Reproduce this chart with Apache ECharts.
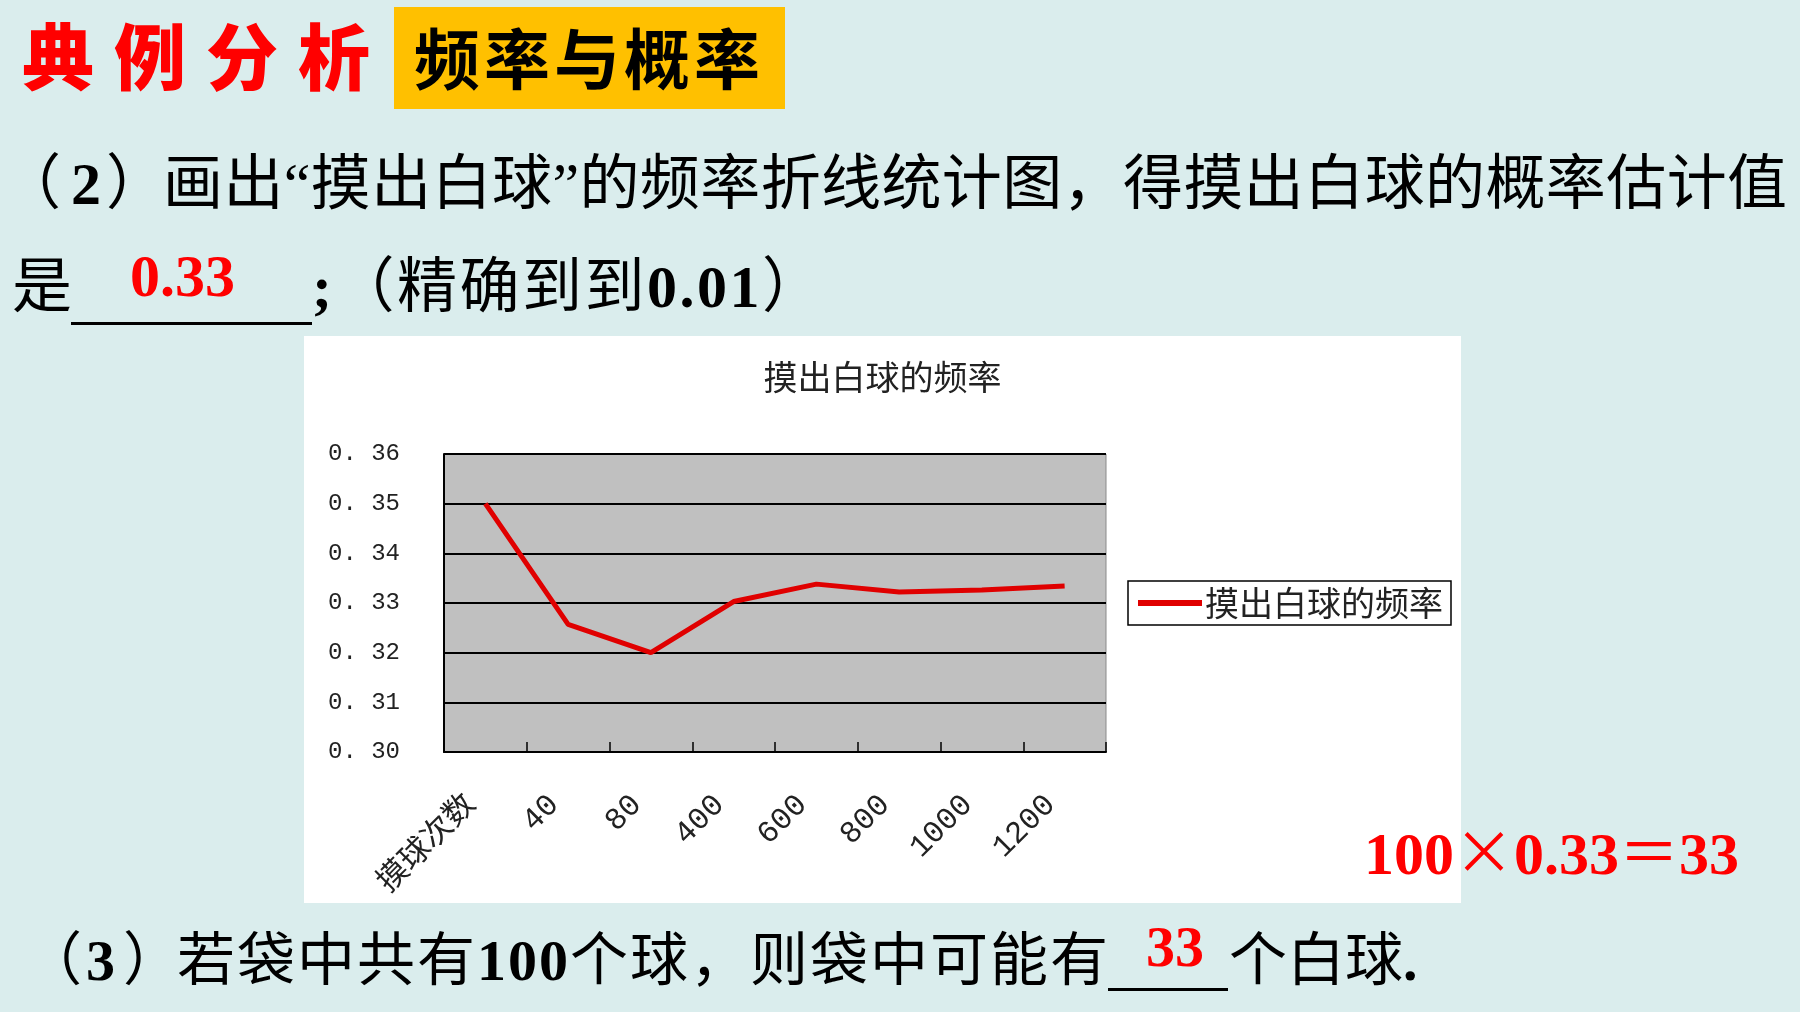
<!DOCTYPE html>
<html>
<head>
<meta charset="utf-8">
<script src="https://cdn.jsdelivr.net/npm/echarts@6/dist/echarts.min.js"></script>
<style>
  html, body { margin: 0; padding: 0; }
  body { width: 1800px; height: 1012px; background: #daeded; position: relative; overflow: hidden;
         font-family: "Liberation Serif", "Noto Sans CJK SC", serif; color: #000; }
  .abs { position: absolute; white-space: nowrap; line-height: 1; }
  #chart { position: absolute; left: 304px; top: 336px; width: 1157px; height: 567px; background: #fff; z-index: 1; }
  .red { color: #ff0000; font-weight: bold; z-index: 2; }
  .cjk { font-family: "Noto Sans CJK SC"; font-weight: normal; }
  .uline { position: absolute; height: 3px; background: #000; }
</style>
</head>
<body>
<div class="abs" id="h1" style="left:22px; top:17px; font-family:'Noto Sans CJK SC'; font-weight:900; font-size:72px; letter-spacing:20px; color:#ff0000;">典例分析</div>
<div class="abs" style="left:394px; top:7px; width:391px; height:102px; background:#ffc000;"></div>
<div class="abs" id="h2" style="left:414px; top:22px; font-family:'Noto Sans CJK SC'; font-weight:700; font-size:66px; letter-spacing:4px;">频率与概率</div>

<div class="abs" style="left:1px; top:154px; font-size:60px;">（<b style="margin-left:10px">2</b><span style="margin-left:5px">）</span></div>
<div class="abs" id="l1" style="left:163px; top:154px; font-size:60px; letter-spacing:0.4px;">画出“摸出白球”的频率折线统计图，得摸出白球的概率估计值</div>
<div class="abs" id="l2a" style="left:12px; top:257px; font-size:60px;">是</div>
<div class="uline" style="left:71px; top:322px; width:241px;"></div>
<div class="abs red" style="left:130px; top:246px; font-size:60px;">0.33</div>
<div class="abs" id="l2b" style="left:312px; top:257px; font-size:60px; letter-spacing:2.5px;"><b>;</b>（精确到到<b>0.01</b>）</div>

<div class="abs red" id="calc" style="left:1364px; top:818px; font-size:60px;">100<span class="cjk">×</span>0.33<span class="cjk">＝</span>33</div>

<div class="abs" style="left:24px; top:932px; font-size:58px;">（<b style="margin-left:4px">3</b><span style="margin-left:8px">）</span></div>
<div class="abs" id="l3a" style="right:690px; top:932px; font-size:58px; letter-spacing:2px; text-align:right;">若袋中共有<b>100</b>个球，则袋中可能有</div>
<div class="uline" style="left:1108px; top:988px; width:120px;"></div>
<div class="abs red" style="left:1146px; top:918px; font-size:58px;">33</div>
<div class="abs" id="l3b" style="left:1229px; top:932px; font-size:58px;">个白球<b>.</b></div>

<div id="chart"></div>
<script>
const categories = ['摸球次数', '40', '80', '400', '600', '800', '1000', '1200'];
const frequency = [0.350, 0.3257, 0.320, 0.3303, 0.3338, 0.3322, 0.3326, 0.3334];
const seriesName = '摸出白球的频率';
const chartTitle = '摸出白球的频率';
const yMin = 0.30, yMax = 0.36, yStep = 0.01;

const chart = echarts.init(document.getElementById('chart'), null, { renderer: 'canvas' });
const labelFont = '"Liberation Mono", "Noto Sans CJK SC", monospace';
chart.setOption({
  animation: false,
  backgroundColor: '#ffffff',
  title: {
    text: chartTitle, left: 'center', top: 19,
    textStyle: { fontSize: 34, fontWeight: 'normal', color: '#222', fontFamily: 'Noto Sans CJK SC' }
  },
  grid: {
    left: 140, top: 118, width: 662, height: 298,
    outerBoundsMode: 'none', containLabel: false,
    show: true, backgroundColor: '#c0c0c0', borderColor: '#8a8a8a', borderWidth: 1
  },
  legend: {
    data: [seriesName], left: 824, top: 245, orient: 'vertical',
    borderColor: '#000', borderWidth: 1.5, padding: [5, 8, 5, 10],
    icon: 'rect', itemWidth: 64, itemHeight: 6, itemGap: 0,
    textStyle: { fontSize: 34, color: '#222', fontFamily: 'Noto Sans CJK SC', padding: [0, 0, 0, -2] }
  },
  xAxis: {
    type: 'category', data: categories, boundaryGap: true,
    axisLine: { show: true, lineStyle: { color: '#000', width: 2 } },
    axisTick: { show: true, inside: true, length: 10, lineStyle: { color: '#000', width: 1.5 } },
    axisLabel: { rotate: 45, margin: 34, padding: [0, 20, 0, 0], fontSize: 31, color: '#222', fontFamily: labelFont, interval: 0 }
  },
  yAxis: {
    type: 'value', min: yMin, max: yMax, interval: yStep,
    axisLine: { show: true, lineStyle: { color: '#000', width: 2 } },
    axisTick: { show: true, inside: true, length: 8, lineStyle: { color: '#000', width: 1.5 } },
    splitLine: { show: true, lineStyle: { color: '#000', width: 2 } },
    axisLabel: {
      margin: 44, fontSize: 24, color: '#222', fontFamily: labelFont,
      formatter: v => v.toFixed(2).replace('.', '. ')
    }
  },
  series: [{
    name: seriesName, type: 'line', data: frequency,
    symbol: 'none', smooth: false,
    lineStyle: { color: '#e00000', width: 5 },
    itemStyle: { color: '#e00000' }
  }]
});
</script>
</body>
</html>
